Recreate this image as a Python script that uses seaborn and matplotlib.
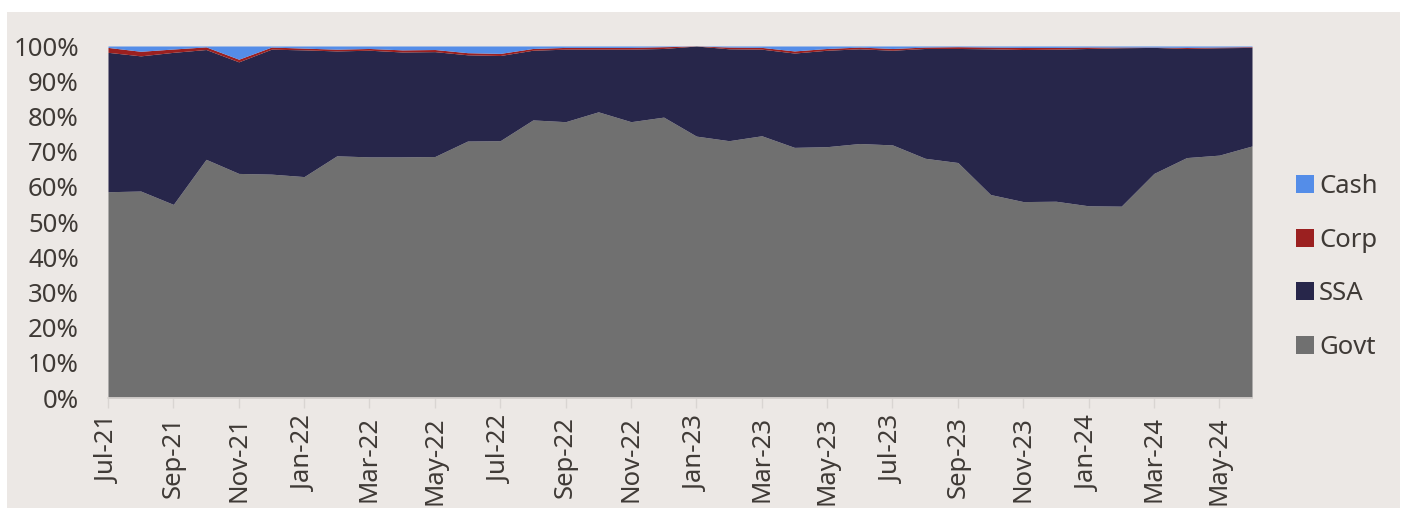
import numpy as np
import pandas as pd
import matplotlib
matplotlib.use("Agg")
import matplotlib.pyplot as plt
import seaborn as sns
from matplotlib.patches import Rectangle, Patch

# %% datos (% del total, mensual Jul-21 .. Jun-24)
meses = pd.date_range("2021-07-01", "2024-06-01", freq="MS").strftime("%b-%y").tolist()

govt = [58.6, 58.8, 55.0, 67.8, 63.8, 63.6, 62.9, 68.8, 68.5, 68.5, 68.6, 73.0,
        73.1, 79.0, 78.5, 81.3, 78.5, 79.8, 74.4, 73.1, 74.5, 71.2, 71.4, 72.3,
        71.9, 68.1, 66.9, 57.8, 55.8, 55.9, 54.6, 54.5, 63.8, 68.3, 69.0, 71.6]
ssa = [39.6, 38.4, 43.2, 31.2, 31.7, 35.5, 36.0, 29.8, 30.3, 29.8, 29.8, 24.5,
       24.2, 19.8, 20.6, 17.8, 20.6, 19.5, 25.6, 26.1, 24.6, 26.8, 27.4, 26.9,
       26.9, 31.2, 32.4, 41.4, 43.2, 43.2, 44.7, 45.0, 35.8, 31.0, 30.5, 28.0]
corp = [1.4, 1.3, 0.95, 0.75, 0.75, 0.6, 0.5, 0.5, 0.5, 0.6, 0.6, 0.6,
        0.6, 0.5, 0.5, 0.5, 0.5, 0.5, 0.0, 0.5, 0.5, 0.6, 0.5, 0.5,
        0.5, 0.4, 0.5, 0.5, 0.6, 0.5, 0.4, 0.2, 0.1, 0.3, 0.2, 0.2]
cash = [0.4, 1.5, 0.85, 0.25, 3.75, 0.3, 0.6, 0.9, 0.7, 1.1, 1.0, 1.9,
        2.1, 0.7, 0.4, 0.4, 0.4, 0.2, 0.0, 0.3, 0.4, 1.4, 0.7, 0.3,
        0.7, 0.3, 0.2, 0.3, 0.4, 0.4, 0.3, 0.3, 0.3, 0.4, 0.3, 0.2]

series = ["Govt", "SSA", "Corp", "Cash"]
colores = {"Govt": "#707070", "SSA": "#27264A", "Corp": "#9B2020", "Cash": "#548DE8"}

df = pd.DataFrame({"Govt": govt, "SSA": ssa, "Corp": corp, "Cash": cash}, index=meses)
df = df.div(df.sum(axis=1), axis=0)  # 100% apilado

# %% grafico
fondo = "#ECE8E5"
texto = "#3F3A36"

sns.set_theme(style="white")
plt.rcParams["font.family"] = ["Noto Sans", "DejaVu Sans"]

fig = plt.figure(figsize=(14.1, 5.13), dpi=100)
fig.patch.set_facecolor("white")
fig.add_artist(Rectangle((7 / 1410, 5 / 513), 1393 / 1410, 496 / 513,
                         transform=fig.transFigure, facecolor=fondo,
                         edgecolor="none", zorder=-10))

ax = fig.add_axes([108 / 1410, 1 - 398 / 513, (1252 - 108) / 1410, (398 - 46) / 513])
ax.set_facecolor(fondo)

x = np.arange(len(df))
ax.stackplot(x, [df[s].values for s in series],
             colors=[colores[s] for s in series], linewidth=0)

ax.set_xlim(0, len(df) - 1)
ax.set_ylim(0, 1)
ax.set_yticks(np.arange(0, 1.01, 0.1))
ax.set_yticklabels([f"{int(round(v * 100))}%" for v in np.arange(0, 1.01, 0.1)])
ax.set_xticks(x[::2])
ax.set_xticklabels(df.index[::2], rotation=90)

ax.tick_params(axis="y", length=0, labelsize=18.5, labelcolor=texto, pad=21)
ax.tick_params(axis="x", length=7, width=1, color="#D9D5D2", direction="out",
               labelsize=18.5, labelcolor=texto, pad=6)
ax.tick_params(axis="x", bottom=True)

sns.despine(ax=ax, left=True, top=True, right=True, bottom=False)
ax.spines["bottom"].set_color("#D9D5D2")

handles = [Patch(facecolor=colores[s], edgecolor="none") for s in series[::-1]]
fig.legend(handles, series[::-1], loc="center left",
           bbox_to_anchor=(1273 / 1410, 1 - 267 / 513), frameon=False,
           fontsize=18.5, labelcolor=texto, handlelength=0.7, handleheight=0.7,
           handletextpad=0.2, labelspacing=1.12)

fig.savefig("out.png", dpi=100, facecolor="white")
